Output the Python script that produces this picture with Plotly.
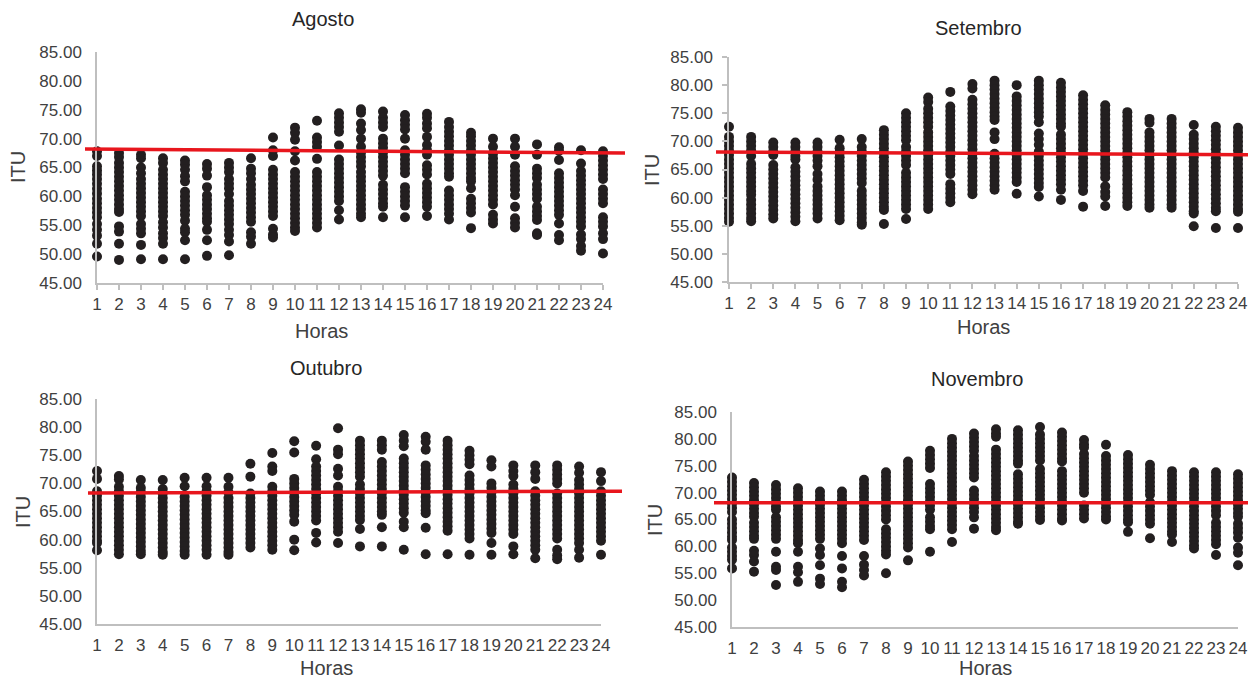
import plotly.graph_objects as go

HOURS = list(range(1, 25))
TICK_LABELS = [str(h) for h in HOURS]
Y_TICKS = [45, 50, 55, 60, 65, 70, 75, 80, 85]

AGOSTO = [
    [67.8, 67.0, 65.2, 64.5, 63.8, 63.0, 62.2, 61.3, 60.5, 59.6, 58.8, 58.0, 57.2, 56.4, 55.2, 54.2, 53.2, 51.8, 49.6],
    [67.5, 66.8, 65.8, 65.0, 64.2, 63.4, 62.6, 61.8, 61.0, 60.2, 59.4, 58.6, 57.8, 57.3, 54.8, 53.9, 51.8, 49.0],
    [67.2, 66.6, 65.0, 64.0, 63.0, 62.2, 61.4, 60.6, 59.8, 59.0, 58.2, 57.4, 56.6, 55.2, 54.4, 53.6, 51.6, 49.1],
    [66.6, 65.8, 64.6, 63.8, 63.0, 62.2, 61.4, 60.6, 59.8, 59.0, 58.2, 57.4, 56.6, 55.5, 54.6, 53.6, 52.8, 51.8, 49.1],
    [66.2, 65.5, 64.6, 63.5, 62.6, 60.8, 60.0, 59.2, 58.4, 57.6, 56.8, 55.8, 54.4, 53.8, 52.4, 49.1],
    [65.6, 64.8, 63.6, 61.6, 60.2, 59.4, 58.6, 57.8, 57.0, 56.2, 55.6, 54.2, 52.4, 49.7],
    [65.8, 65.0, 64.2, 63.0, 62.2, 61.4, 60.4, 59.2, 58.4, 57.6, 56.8, 56.0, 55.2, 54.2, 53.3, 52.2, 49.8],
    [66.6, 64.8, 64.0, 63.0, 62.0, 61.2, 60.4, 59.6, 58.8, 58.0, 57.2, 56.4, 55.6, 53.8, 53.0, 51.8],
    [70.2, 68.0, 67.0, 64.6, 63.8, 63.0, 62.2, 61.4, 60.6, 59.8, 59.0, 58.2, 57.4, 56.6, 54.4, 53.4, 52.9],
    [71.9, 71.0, 69.8, 67.8, 66.2, 64.2, 63.4, 62.6, 61.8, 61.0, 60.2, 59.4, 58.6, 57.8, 57.0, 56.2, 55.4, 54.6, 54.0],
    [73.1, 70.2, 69.4, 68.6, 66.5, 64.2, 63.4, 62.6, 61.8, 61.0, 60.2, 59.4, 58.6, 57.8, 57.0, 56.2, 55.4, 54.6],
    [74.4, 73.6, 72.8, 72.0, 71.2, 68.8, 66.4, 65.6, 64.8, 64.0, 63.2, 62.4, 61.6, 60.8, 60.0, 59.2, 57.6, 56.0],
    [75.1, 74.5, 72.6, 71.5, 70.0, 68.6, 67.6, 66.8, 66.0, 65.2, 64.2, 63.4, 62.6, 61.8, 61.0, 60.2, 59.4, 58.6, 57.8, 57.0, 56.4],
    [74.7, 73.6, 72.8, 72.0, 70.0, 69.2, 68.4, 67.6, 66.8, 66.0, 65.2, 64.4, 63.6, 62.0, 61.2, 60.4, 59.6, 58.8, 58.2, 56.4],
    [74.1, 73.2, 72.4, 71.6, 70.0, 68.0, 67.2, 66.4, 65.6, 64.8, 64.0, 61.6, 60.8, 60.0, 59.2, 58.4, 56.4],
    [74.3, 73.6, 72.6, 71.8, 70.3, 68.9, 68.0, 67.2, 65.4, 64.6, 63.8, 62.2, 61.4, 60.6, 59.8, 59.0, 58.2, 56.6],
    [72.9, 72.0, 71.2, 70.4, 69.6, 68.8, 68.0, 67.2, 66.4, 65.6, 64.8, 64.0, 63.4, 61.0, 60.2, 59.4, 58.6, 57.8, 57.0, 56.0],
    [71.0, 70.4, 69.6, 68.8, 68.0, 67.2, 66.4, 65.6, 64.8, 64.0, 63.2, 62.6, 61.4, 59.6, 58.8, 58.0, 57.2, 54.5],
    [70.0, 68.6, 67.4, 66.6, 65.8, 65.0, 64.2, 63.4, 62.6, 61.8, 61.0, 60.2, 59.4, 58.6, 56.8, 56.0, 55.3],
    [70.0, 68.6, 67.2, 65.2, 64.4, 63.6, 62.8, 62.0, 61.2, 60.2, 58.2, 56.2, 55.4, 54.6],
    [69.0, 67.2, 64.8, 64.0, 63.2, 62.0, 61.2, 60.4, 59.6, 58.2, 57.4, 56.6, 55.9, 53.6, 53.3],
    [68.5, 67.9, 66.3, 64.0, 63.2, 62.4, 61.6, 60.8, 60.0, 59.2, 58.4, 57.6, 56.8, 55.3, 53.3, 52.4],
    [68.0, 65.7, 64.4, 63.6, 62.8, 62.0, 61.2, 60.4, 59.6, 58.8, 58.0, 57.2, 56.4, 55.6, 54.8, 53.4, 52.6, 51.4, 50.6],
    [67.8, 67.0, 66.2, 65.4, 64.6, 63.8, 63.0, 61.2, 60.4, 59.6, 58.8, 56.4, 55.6, 54.8, 53.6, 52.6, 50.1],
]

SETEMBRO = [
    [72.6, 70.8, 70.0, 69.2, 68.4, 67.6, 66.8, 66.0, 65.2, 64.4, 63.6, 62.8, 62.0, 61.2, 60.4, 59.6, 58.8, 58.0, 57.2, 56.4, 55.7],
    [70.8, 70.0, 69.2, 68.4, 67.4, 66.0, 65.2, 64.4, 63.6, 62.8, 62.0, 61.2, 60.5, 59.6, 58.8, 58.0, 57.2, 56.4, 55.8],
    [69.8, 69.0, 68.2, 67.6, 65.8, 65.0, 64.2, 63.4, 62.6, 61.8, 61.0, 60.2, 59.4, 58.6, 57.8, 57.0, 56.3],
    [69.8, 69.0, 68.2, 67.4, 66.8, 65.4, 64.6, 63.8, 63.0, 62.2, 61.4, 60.6, 59.8, 59.0, 58.2, 57.4, 56.6, 55.8],
    [69.8, 69.0, 68.2, 67.4, 66.6, 65.6, 64.2, 63.2, 62.0, 61.2, 60.4, 59.6, 58.8, 58.0, 57.2, 56.3],
    [70.3, 68.8, 68.0, 67.2, 66.4, 65.6, 64.8, 64.0, 63.2, 62.4, 61.6, 60.8, 60.0, 59.2, 58.4, 57.6, 56.8, 56.0],
    [70.4, 69.0, 68.2, 67.4, 66.6, 65.8, 65.0, 64.2, 63.4, 62.6, 61.2, 60.4, 59.6, 58.8, 58.0, 57.2, 56.4, 55.6, 55.2],
    [72.0, 71.2, 70.4, 69.6, 68.8, 68.0, 67.2, 66.4, 65.6, 64.8, 64.0, 63.2, 62.4, 61.6, 60.8, 60.0, 59.2, 58.4, 57.8, 55.3],
    [75.0, 74.2, 73.4, 72.6, 71.8, 71.0, 70.2, 69.0, 68.2, 67.4, 66.6, 65.8, 64.4, 63.6, 62.8, 62.0, 61.2, 60.4, 59.6, 58.8, 58.0, 56.2],
    [77.8, 77.0, 75.8, 75.0, 74.2, 73.4, 72.6, 71.6, 70.8, 70.0, 69.2, 68.4, 67.6, 66.8, 66.0, 65.2, 64.4, 63.6, 62.8, 62.0, 61.2, 60.4, 59.6, 58.8, 58.0],
    [78.8, 76.2, 75.4, 74.6, 73.8, 73.0, 72.2, 71.4, 70.6, 69.8, 69.0, 68.2, 67.4, 66.6, 65.8, 65.0, 64.2, 62.4, 61.6, 60.8, 60.0, 59.2],
    [80.2, 79.4, 77.4, 76.6, 75.8, 75.0, 74.2, 73.4, 72.6, 71.8, 71.0, 70.2, 69.4, 68.6, 67.8, 67.0, 66.2, 65.4, 64.6, 63.8, 63.0, 62.2, 61.4, 60.6],
    [80.8, 80.0, 79.2, 78.4, 77.6, 76.8, 76.0, 75.2, 74.4, 73.8, 71.6, 70.4, 67.8, 67.0, 66.2, 65.4, 64.6, 63.8, 63.0, 62.2, 61.4],
    [80.0, 78.0, 77.2, 76.4, 75.6, 74.8, 74.0, 73.2, 72.4, 71.6, 70.8, 70.0, 69.2, 68.4, 67.6, 66.8, 66.0, 65.2, 64.4, 63.6, 62.8, 60.7],
    [80.8, 80.0, 79.2, 78.4, 77.6, 76.8, 76.0, 75.2, 74.4, 73.4, 71.4, 70.4, 69.4, 68.2, 67.4, 66.6, 65.8, 65.0, 64.2, 63.4, 62.6, 61.9, 60.2],
    [80.4, 79.6, 78.8, 78.0, 77.2, 76.4, 75.6, 74.8, 74.0, 73.2, 72.6, 71.2, 70.4, 69.6, 68.8, 68.0, 67.2, 66.4, 65.6, 64.8, 64.0, 63.2, 62.4, 61.4, 59.6],
    [78.2, 77.4, 76.6, 75.8, 75.0, 74.2, 73.4, 72.6, 71.8, 71.0, 70.2, 69.4, 68.6, 67.8, 67.0, 66.2, 65.4, 64.6, 63.8, 63.0, 62.2, 61.2, 58.4],
    [76.4, 75.6, 74.8, 74.0, 73.2, 72.4, 71.6, 70.8, 70.0, 69.2, 68.4, 67.6, 66.8, 66.0, 65.2, 64.4, 63.6, 62.0, 61.0, 60.2, 58.5],
    [75.2, 74.4, 73.6, 72.8, 72.0, 71.2, 70.4, 69.6, 68.8, 68.0, 67.2, 66.4, 65.6, 64.8, 64.0, 63.2, 62.4, 61.6, 60.8, 60.0, 59.2, 58.5],
    [74.0, 73.3, 71.6, 70.8, 70.0, 69.2, 68.4, 67.6, 66.8, 66.0, 65.2, 64.4, 63.6, 62.8, 62.0, 61.2, 60.4, 59.6, 58.8, 58.2],
    [74.0, 73.2, 72.4, 71.6, 70.8, 70.0, 69.2, 68.4, 67.6, 66.8, 66.0, 65.2, 64.4, 63.6, 62.8, 62.0, 61.2, 60.4, 59.6, 58.8, 58.2],
    [72.9, 71.2, 70.4, 69.6, 68.8, 68.0, 67.2, 66.4, 65.6, 64.8, 64.0, 63.2, 62.4, 61.6, 60.8, 60.0, 59.2, 58.4, 57.6, 57.2, 54.9],
    [72.6, 71.8, 71.0, 70.2, 69.4, 68.6, 67.8, 67.0, 66.2, 65.4, 64.6, 63.8, 63.0, 62.2, 61.4, 60.6, 59.8, 59.0, 58.2, 57.6, 54.6],
    [72.4, 71.6, 70.8, 70.0, 69.2, 68.4, 67.6, 66.8, 66.0, 65.2, 64.4, 63.6, 62.8, 62.0, 61.2, 60.4, 59.6, 58.8, 58.0, 57.5, 54.6],
]

OUTUBRO = [
    [72.2, 70.8, 68.6, 67.8, 67.0, 66.2, 65.4, 64.6, 63.8, 63.0, 62.2, 61.4, 60.6, 59.8, 59.4, 58.1],
    [71.3, 70.7, 69.4, 68.6, 67.8, 67.0, 66.2, 65.4, 64.6, 63.8, 63.0, 62.2, 61.4, 60.6, 59.8, 59.0, 58.2, 57.4],
    [70.6, 69.2, 68.4, 67.6, 66.8, 66.0, 65.2, 64.4, 63.6, 62.8, 62.0, 61.2, 60.4, 59.6, 58.8, 58.0, 57.4],
    [70.6, 69.0, 68.2, 67.4, 66.6, 65.8, 65.0, 64.2, 63.4, 62.6, 61.8, 61.0, 60.2, 59.4, 58.6, 57.8, 57.3],
    [71.0, 69.5, 67.6, 66.8, 66.0, 65.2, 64.4, 63.6, 62.8, 62.0, 61.2, 60.4, 59.6, 58.8, 58.0, 57.3],
    [71.0, 69.5, 68.6, 67.8, 67.0, 66.2, 65.4, 64.6, 63.8, 63.0, 62.2, 61.4, 60.6, 59.8, 59.0, 58.2, 57.3],
    [71.0, 69.4, 68.4, 67.4, 66.6, 65.8, 65.0, 64.2, 63.4, 62.6, 61.8, 61.0, 60.2, 59.4, 58.6, 57.8, 57.3],
    [73.5, 71.2, 68.2, 67.4, 66.6, 65.8, 65.0, 64.2, 63.4, 62.6, 61.8, 61.0, 60.2, 59.4, 58.6],
    [75.4, 73.0, 72.2, 69.4, 68.6, 67.8, 67.0, 66.2, 65.4, 64.6, 63.8, 63.0, 62.2, 61.4, 60.6, 59.8, 59.0, 58.2],
    [77.5, 75.5, 70.8, 70.0, 69.2, 68.4, 67.6, 66.8, 66.0, 65.2, 64.4, 63.2, 60.0, 58.1],
    [76.7, 74.3, 73.0, 72.2, 71.4, 70.6, 69.8, 69.0, 68.2, 67.4, 66.6, 65.8, 65.0, 64.2, 63.4, 61.2, 59.5],
    [79.8, 76.0, 75.2, 72.6, 71.4, 69.4, 68.6, 67.8, 67.0, 66.2, 65.4, 64.6, 63.8, 63.0, 62.2, 61.4, 59.4],
    [77.6, 76.8, 76.0, 75.2, 74.4, 73.6, 72.8, 72.0, 71.2, 69.8, 69.0, 68.2, 67.4, 66.6, 65.8, 65.0, 64.2, 63.5, 61.9, 58.8],
    [77.6, 76.8, 76.0, 73.8, 73.0, 72.2, 71.4, 70.6, 69.8, 69.0, 68.2, 67.4, 66.6, 65.8, 65.0, 64.4, 62.2, 58.8],
    [78.6, 77.6, 76.6, 74.4, 73.6, 72.8, 72.0, 71.2, 70.4, 69.6, 68.8, 68.0, 67.2, 66.4, 65.6, 64.8, 63.2, 62.2, 58.2],
    [78.3, 77.4, 76.0, 73.2, 72.4, 71.6, 70.8, 70.0, 69.2, 68.4, 67.6, 66.8, 66.0, 65.2, 64.7, 62.1, 57.4],
    [77.6, 76.8, 76.0, 75.2, 74.4, 73.6, 72.8, 72.0, 71.2, 70.4, 69.6, 68.8, 68.0, 67.2, 66.4, 65.6, 64.8, 64.0, 63.2, 62.4, 61.6, 57.4],
    [75.8, 75.0, 74.2, 73.4, 71.4, 70.6, 69.8, 69.0, 68.2, 67.4, 66.6, 65.8, 65.0, 64.2, 63.4, 62.6, 61.8, 61.0, 60.2, 57.3],
    [74.1, 73.0, 70.0, 69.2, 68.4, 67.6, 66.8, 66.0, 65.2, 64.4, 63.6, 62.8, 62.0, 61.2, 59.4, 57.3],
    [73.2, 72.2, 71.3, 69.8, 69.0, 68.2, 67.4, 66.6, 65.8, 65.0, 64.2, 63.4, 62.6, 61.8, 61.0, 58.8, 57.4],
    [73.2, 72.0, 70.8, 68.6, 67.8, 67.0, 66.2, 65.4, 64.6, 63.8, 63.0, 62.2, 61.4, 60.6, 59.8, 59.0, 58.2, 56.7],
    [73.2, 72.4, 71.6, 70.8, 70.0, 68.2, 67.4, 66.6, 65.8, 65.0, 64.2, 63.4, 62.6, 61.8, 61.0, 60.2, 58.2, 57.2, 56.5],
    [73.0, 71.9, 70.6, 69.8, 69.0, 68.2, 67.4, 66.6, 65.8, 65.0, 64.2, 63.4, 62.6, 61.8, 61.0, 60.2, 59.4, 58.2, 56.8],
    [72.0, 70.4, 68.6, 67.8, 67.0, 66.2, 65.4, 64.6, 63.8, 63.0, 62.2, 61.4, 60.6, 59.8, 57.3],
]

NOVEMBRO = [
    [72.8, 72.0, 71.2, 70.4, 69.6, 68.8, 68.0, 67.2, 66.4, 65.0, 64.2, 63.4, 62.6, 61.8, 61.2, 59.8, 59.0, 58.2, 57.5, 55.9],
    [71.8, 71.0, 70.2, 69.4, 68.6, 67.8, 67.0, 66.2, 65.5, 64.4, 63.6, 62.8, 62.0, 61.4, 59.2, 58.4, 57.2, 55.3],
    [71.4, 70.6, 69.8, 69.0, 68.2, 67.4, 66.8, 65.4, 64.6, 63.8, 63.0, 62.2, 61.4, 59.0, 56.2, 55.6, 52.8],
    [70.8, 70.0, 69.2, 68.4, 67.6, 66.8, 66.0, 65.2, 64.4, 63.6, 62.8, 62.0, 61.2, 60.6, 59.0, 56.2, 55.2, 53.4],
    [70.2, 69.4, 68.6, 67.8, 67.0, 66.2, 65.4, 64.6, 63.8, 63.0, 62.2, 61.4, 59.6, 58.4, 56.5, 54.0, 53.0],
    [70.2, 69.4, 68.6, 67.8, 67.0, 66.2, 65.4, 64.6, 63.8, 63.0, 62.2, 61.4, 60.6, 58.2, 55.9, 53.4, 52.4],
    [72.4, 71.6, 70.8, 70.0, 69.2, 68.4, 67.6, 66.8, 66.0, 65.2, 64.4, 63.6, 62.8, 62.0, 61.2, 58.2, 56.6, 55.6, 54.6],
    [73.8, 73.0, 72.2, 71.4, 70.6, 69.8, 69.0, 68.2, 67.4, 66.6, 65.8, 65.0, 63.2, 62.4, 61.6, 60.8, 60.0, 59.2, 58.5, 55.0],
    [75.8, 75.0, 74.2, 73.4, 72.6, 71.8, 71.0, 70.2, 69.4, 68.6, 67.8, 67.0, 66.2, 65.4, 64.6, 63.8, 63.0, 62.2, 61.4, 60.6, 59.8, 57.4],
    [77.8, 77.0, 76.2, 75.4, 74.6, 71.6, 70.8, 70.0, 69.2, 68.4, 67.6, 66.8, 65.4, 64.6, 63.8, 63.2, 59.0],
    [80.0, 79.2, 78.4, 77.6, 76.8, 76.0, 75.2, 74.4, 73.6, 72.8, 72.0, 71.2, 70.4, 69.6, 68.8, 68.0, 67.2, 66.4, 65.6, 64.8, 64.0, 63.2, 60.8],
    [81.0, 80.2, 79.4, 78.6, 77.8, 76.8, 76.0, 75.2, 74.4, 73.6, 72.8, 70.4, 69.6, 68.8, 68.0, 67.2, 66.4, 65.4, 63.3],
    [81.8, 81.0, 80.4, 78.0, 77.2, 76.4, 75.6, 74.8, 74.0, 73.2, 72.4, 71.6, 70.8, 70.0, 69.2, 68.4, 67.6, 66.8, 66.0, 65.2, 64.4, 63.6, 63.0],
    [81.6, 80.8, 80.0, 79.2, 78.4, 77.6, 76.8, 76.0, 75.4, 73.4, 72.6, 71.8, 71.0, 70.2, 69.4, 68.6, 67.8, 67.0, 66.2, 65.4, 64.6, 64.2],
    [82.2, 80.8, 80.0, 79.2, 78.4, 77.6, 76.8, 76.0, 74.4, 73.6, 72.8, 72.0, 71.2, 70.4, 69.6, 68.8, 68.0, 67.2, 66.4, 65.6, 64.9],
    [81.2, 80.4, 79.6, 78.8, 78.0, 77.2, 76.4, 75.8, 74.0, 73.2, 72.4, 71.6, 70.8, 70.0, 69.2, 68.4, 67.6, 66.8, 66.0, 65.2, 64.8],
    [79.8, 79.0, 78.4, 77.2, 76.4, 75.6, 74.8, 74.0, 73.2, 72.4, 71.6, 70.8, 70.0, 67.6, 66.8, 66.0, 65.2],
    [78.9, 76.8, 76.0, 75.2, 74.4, 73.6, 72.8, 72.0, 71.2, 70.4, 69.6, 68.8, 68.0, 67.2, 66.4, 65.6, 65.0],
    [77.0, 76.2, 75.4, 74.6, 73.8, 73.0, 72.2, 71.4, 70.6, 69.8, 69.0, 68.2, 67.4, 66.6, 65.8, 65.0, 64.5, 62.7],
    [75.2, 74.4, 73.6, 72.8, 72.0, 71.2, 70.4, 69.6, 68.2, 67.4, 66.6, 65.8, 65.0, 64.2, 61.5],
    [74.0, 73.2, 72.4, 71.6, 70.8, 70.0, 69.2, 68.4, 67.6, 66.8, 66.0, 65.2, 64.4, 63.6, 62.8, 62.2, 60.8],
    [73.8, 73.0, 72.2, 71.4, 70.6, 69.8, 69.0, 68.2, 67.4, 66.6, 65.8, 65.0, 64.2, 63.4, 62.6, 61.8, 61.0, 60.2, 59.6],
    [73.8, 73.0, 72.2, 71.4, 70.6, 69.8, 69.0, 68.2, 67.4, 66.6, 65.8, 64.4, 63.6, 62.8, 62.0, 61.2, 60.4, 58.4],
    [73.4, 72.6, 71.8, 71.0, 70.2, 69.4, 68.6, 67.8, 67.0, 66.2, 65.5, 64.2, 63.4, 62.6, 61.6, 59.8, 58.8, 56.5],
]

# red reference line: value at its left end, value at its right end
LIMITE_AGOSTO = [68.2, 67.5]
LIMITE_SETEMBRO = [68.1, 67.6]
LIMITE_OUTUBRO = [68.3, 68.6]
LIMITE_NOVEMBRO = [68.1, 68.1]

TITLES = ["Agosto", "Setembro", "Outubro", "Novembro"]

W, H = 1256, 680
OFF = 8  # page body margin of the html page
FONT = "Liberation Sans, Arial, sans-serif"
TXT = "#404040"
AXC = "#bfbfbf"

# panel geometry in screen pixels: x of hour 1, x of hour 24, y of 85, y of 45
PANELS = [
    dict(x0=97, x1=603, ytop=52, ybot=283, ticks=True, yticks=False,
         title=(323, 19), horas=(321, 331), itu=(18, 167), line=(85, 625)),
    dict(x0=729, x1=1238, ytop=57, ybot=282, ticks=True, yticks=True,
         title=(978, 28), horas=(983, 327), itu=(652, 170), line=(716, 1262)),
    dict(x0=97, x1=601, ytop=399, ybot=624, ticks=False, yticks=False,
         title=(326, 368), horas=(326, 668), itu=(23, 512), line=(88, 622)),
    dict(x0=732, x1=1238, ytop=412, ybot=627, ticks=False, yticks=False,
         title=(977, 379), horas=(985, 668), itu=(655, 520), line=(714, 1262)),
]
DATA = [AGOSTO, SETEMBRO, OUTUBRO, NOVEMBRO]
LIMITS = [LIMITE_AGOSTO, LIMITE_SETEMBRO, LIMITE_OUTUBRO, LIMITE_NOVEMBRO]


def px(x):
    return (x - OFF) / W


def py(y):
    return 1 - (y - OFF) / H


fig = go.Figure()
annotations = []
shapes = []
layout = {}

for i, (p, month, lim, title) in enumerate(zip(PANELS, DATA, LIMITS, TITLES)):
    n = "" if i == 0 else str(i + 1)
    xs, ys = [], []
    for h, vals in zip(HOURS, month):
        xs += [h] * len(vals)
        ys += vals
    fig.add_trace(go.Scatter(
        x=xs, y=ys, mode="markers", xaxis="x" + n, yaxis="y" + n,
        marker=dict(size=10, color="#231f20"), cliponaxis=False,
        showlegend=False, hoverinfo="x+y"))

    layout["xaxis" + n] = dict(
        domain=[px(p["x0"]), px(p["x1"])], anchor="y" + n, automargin=False,
        range=[1, 24], tickvals=HOURS, ticktext=TICK_LABELS,
        showgrid=False, zeroline=False, showline=True, linecolor=AXC, linewidth=1.5,
        ticks="outside" if p["ticks"] else "", ticklen=5, tickcolor=AXC, tickwidth=1.5,
        ticklabelstandoff=0 if p["ticks"] else 5,
        tickfont=dict(family=FONT, size=17, color=TXT), fixedrange=True)
    layout["yaxis" + n] = dict(
        domain=[py(p["ybot"]), py(p["ytop"])], anchor="x" + n, automargin=False,
        range=[45, 85], tickvals=Y_TICKS, tickformat=".2f",
        showgrid=False, zeroline=False, showline=True, linecolor=AXC, linewidth=1.5,
        ticks="outside" if p["yticks"] else "", ticklen=5, tickcolor=AXC, tickwidth=1.5,
        ticklabelstandoff=6 if p["yticks"] else 10,
        tickfont=dict(family=FONT, size=17, color=TXT), fixedrange=True)

    span = p["x1"] - p["x0"]
    shapes.append(dict(
        type="line", xref="x" + n + " domain", yref="y" + n,
        x0=(p["line"][0] - p["x0"]) / span, x1=(p["line"][1] - p["x0"]) / span,
        y0=lim[0], y1=lim[1], line=dict(color="#e8161d", width=3.5), layer="above"))

    annotations.append(dict(
        text=title, xref="paper", yref="paper", x=px(p["title"][0]), y=py(p["title"][1]),
        xanchor="center", yanchor="middle", showarrow=False,
        font=dict(family=FONT, size=20, color="#262626")))
    annotations.append(dict(
        text="Horas", xref="paper", yref="paper", x=px(p["horas"][0]), y=py(p["horas"][1]),
        xanchor="center", yanchor="middle", showarrow=False,
        font=dict(family=FONT, size=20, color=TXT)))
    annotations.append(dict(
        text="ITU", xref="paper", yref="paper", x=px(p["itu"][0]), y=py(p["itu"][1]),
        xanchor="center", yanchor="middle", showarrow=False, textangle=-90,
        font=dict(family=FONT, size=20, color=TXT)))

fig.update_layout(
    template="none",
    width=W, height=H, margin=dict(l=0, r=0, t=0, b=0, autoexpand=False),
    paper_bgcolor="white", plot_bgcolor="white",
    annotations=annotations, shapes=shapes, **layout)

fig.write_html("out.html", config={"displayModeBar": False})
